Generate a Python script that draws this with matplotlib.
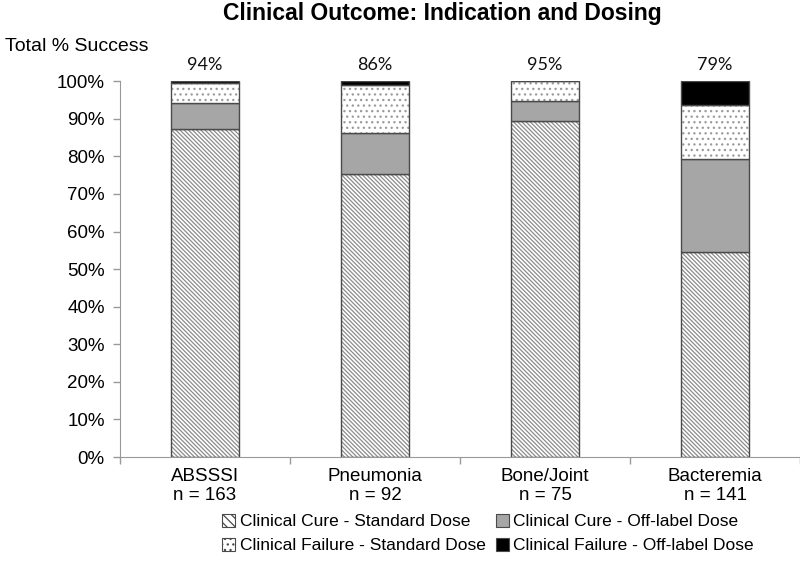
import numpy as np
import matplotlib
matplotlib.use('Agg')
import matplotlib.pyplot as plt
from matplotlib.patches import Patch

plt.rcParams['font.family'] = ['Liberation Sans', 'DejaVu Sans']
plt.rcParams['hatch.linewidth'] = 0.9

categories = ['ABSSSI', 'Pneumonia', 'Bone/Joint', 'Bacteremia']
n_patients = [163, 92, 75, 141]

# percent of patients in each outcome group
cure_standard = [87.4, 75.2, 89.4, 54.6]
cure_offlabel = [6.7, 10.9, 5.4, 24.8]
fail_standard = [5.3, 12.9, 5.2, 14.4]
fail_offlabel = [0.6, 1.0, 0.0, 6.2]

series_names = ['Clinical Cure - Standard Dose', 'Clinical Cure - Off-label Dose',
                'Clinical Failure - Standard Dose', 'Clinical Failure - Off-label Dose']

edge = '#4a4a4a'
styles = [
    dict(facecolor='white', hatch='\\' * 8, hatch_edge='#8c8c8c'),
    dict(facecolor='#a6a6a6', hatch=None, hatch_edge=None),
    dict(facecolor='white', hatch='...', hatch_edge='#9a9a9a'),
    dict(facecolor='black', hatch=None, hatch_edge=None),
]

fig = plt.figure(figsize=(8, 5.72), dpi=100)
ax = fig.add_axes([0.15, 0.201, 0.85, 0.657])

x = np.arange(len(categories))
width = 0.4
series = [cure_standard, cure_offlabel, fail_standard, fail_offlabel]
bottom = np.zeros(len(categories))
for vals, st in zip(series, styles):
    vals = np.array(vals) / 100
    if st['hatch']:
        ax.bar(x, vals, width, bottom=bottom, color=st['facecolor'],
               hatch=st['hatch'], edgecolor=st['hatch_edge'], linewidth=0)
    else:
        ax.bar(x, vals, width, bottom=bottom, color=st['facecolor'], linewidth=0)
    ax.bar(x, vals, width, bottom=bottom, fill=False, edgecolor=edge, linewidth=1.0)
    bottom += vals

totals = np.array(cure_standard) + np.array(cure_offlabel)
for xi, t in zip(x, totals):
    ax.text(xi, 1.022, f'{t:.0f}%', ha='center', va='bottom', fontsize=13,
            family=['Lato', 'DejaVu Sans'], color='#111111')

ax.set_xlim(-0.5, 3.5)
ax.set_ylim(0, 1)
ax.set_yticks(np.arange(0, 1.01, 0.1))
ax.set_yticklabels([f'{v}%' for v in range(0, 101, 10)], fontsize=13.5)
ax.set_xticks(x)
ax.set_xticklabels([f'{c}\nn = {n}' for c, n in zip(categories, n_patients)],
                   fontsize=13.5, linespacing=1.15)
ax.tick_params(axis='x', length=0, pad=8)
ax.set_xticks(np.arange(-0.5, 3.6, 1), minor=True)
ax.tick_params(axis='x', which='minor', length=5, color='#999999', width=1)
ax.tick_params(axis='y', length=5, color='#999999', width=1, pad=6)
for s in ['top', 'right']:
    ax.spines[s].set_visible(False)
for s in ['left', 'bottom']:
    ax.spines[s].set_color('#999999')

fig.text(0.006, 0.918, 'Total % Success', fontsize=14, ha='left', va='center')
fig.text(0.553, 0.976, 'Clinical Outcome: Indication and Dosing', fontsize=16.5,
         fontweight='bold', ha='center', va='center')

handles = []
for name, st in zip(series_names, styles):
    if st['hatch']:
        handles.append(Patch(facecolor=st['facecolor'], hatch=st['hatch'][:4],
                             edgecolor=edge, linewidth=0.8, label=name))
    else:
        handles.append(Patch(facecolor=st['facecolor'], edgecolor=edge,
                             linewidth=0.8, label=name))
# legend fills column by column; reorder so rows read cure / failure
order = [0, 2, 1, 3]
fig.legend(handles=[handles[i] for i in order], ncol=2, loc='center',
           bbox_to_anchor=(0.61, 0.067), frameon=False, fontsize=12.5,
           handlelength=0.75, handleheight=0.75, handletextpad=0.25,
           columnspacing=0.6, labelspacing=0.5)

fig.savefig('out.png', dpi=100)
